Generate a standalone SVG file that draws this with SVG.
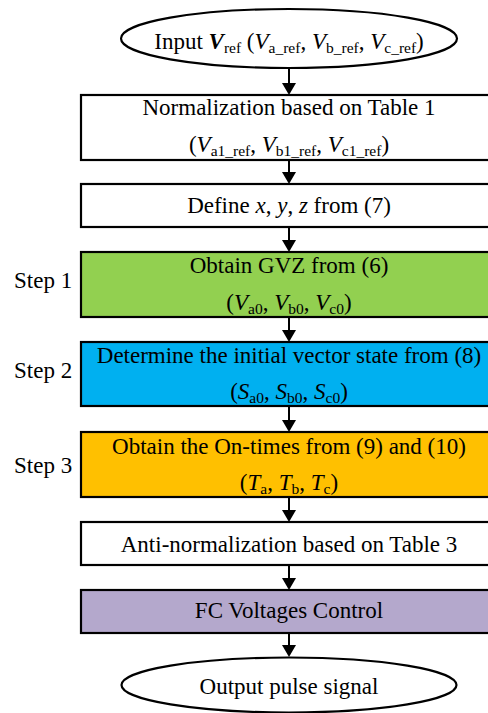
<svg xmlns="http://www.w3.org/2000/svg" width="488" height="713" viewBox="0 0 488 713">
  <style>
    text { font-family: "Liberation Serif", "Times New Roman", serif; font-size: 23px; fill: #000; }
    .c { text-anchor: middle; }
    .box { stroke: #000; stroke-width: 2.2; }
    .term { fill: #fff; stroke: #000; stroke-width: 2.2; }
    .i { font-style: italic; }
    .bi { font-style: italic; font-weight: bold; }
    .s { font-size: 15.5px; }
    .link { stroke: #000; stroke-width: 2; fill: none; }
  </style>
  <defs>
    <marker id="arrow" markerUnits="userSpaceOnUse" viewBox="0 0 12 14" markerWidth="12" markerHeight="14" refX="2" refY="7" orient="auto">
      <path d="M0,0 L12,7 L0,14 z" fill="#000"/>
    </marker>
  </defs>

  <!-- connectors -->
  <g id="connectors">
    <line class="link" x1="289" y1="68" x2="289" y2="85" marker-end="url(#arrow)"/>
    <line class="link" x1="289" y1="160" x2="289" y2="174" marker-end="url(#arrow)"/>
    <line class="link" x1="289" y1="227" x2="289" y2="242" marker-end="url(#arrow)"/>
    <line class="link" x1="289" y1="317" x2="289" y2="332" marker-end="url(#arrow)"/>
    <line class="link" x1="289" y1="406" x2="289" y2="422" marker-end="url(#arrow)"/>
    <line class="link" x1="289" y1="497" x2="289" y2="512" marker-end="url(#arrow)"/>
    <line class="link" x1="289" y1="565" x2="289" y2="580" marker-end="url(#arrow)"/>
    <line class="link" x1="289" y1="633" x2="289" y2="647" marker-end="url(#arrow)"/>
  </g>

  <g id="input">
    <ellipse class="term" cx="289" cy="38.5" rx="168" ry="29.5"/>
    <text class="c" x="289" y="49">Input <tspan class="bi">V</tspan><tspan class="s" dy="4">ref</tspan><tspan dy="-4"> (</tspan><tspan class="i">V</tspan><tspan class="s" dy="4">a_ref</tspan><tspan dy="-4">, </tspan><tspan class="i">V</tspan><tspan class="s" dy="4">b_ref</tspan><tspan dy="-4">, </tspan><tspan class="i">V</tspan><tspan class="s" dy="4">c_ref</tspan><tspan dy="-4">)</tspan></text>
  </g>

  <g id="normalization">
    <rect class="box" x="81" y="95" width="420" height="65" fill="#fff"/>
    <text class="c" x="289" y="115">Normalization based on Table 1</text>
    <text class="c" x="289" y="152">(<tspan class="i">V</tspan><tspan class="s" dy="4">a1_ref</tspan><tspan dy="-4">, </tspan><tspan class="i">V</tspan><tspan class="s" dy="4">b1_ref</tspan><tspan dy="-4">, </tspan><tspan class="i">V</tspan><tspan class="s" dy="4">c1_ref</tspan><tspan dy="-4">)</tspan></text>
  </g>

  <g id="define">
    <rect class="box" x="81" y="184" width="420" height="43" fill="#fff"/>
    <text class="c" x="289" y="213">Define <tspan class="i">x</tspan>, <tspan class="i">y</tspan>, <tspan class="i">z</tspan> from (7)</text>
  </g>

  <g id="step1">
    <rect class="box" x="81" y="252" width="420" height="65" fill="#92D050"/>
    <text class="c" x="289" y="273">Obtain GVZ from (6)</text>
    <text class="c" x="289" y="310">(<tspan class="i">V</tspan><tspan class="s" dy="4">a0</tspan><tspan dy="-4">, </tspan><tspan class="i">V</tspan><tspan class="s" dy="4">b0</tspan><tspan dy="-4">, </tspan><tspan class="i">V</tspan><tspan class="s" dy="4">c0</tspan><tspan dy="-4">)</tspan></text>
    <text x="14" y="288">Step 1</text>
  </g>

  <g id="step2">
    <rect class="box" x="81" y="342" width="420" height="64" fill="#00B0F0"/>
    <text class="c" x="289" y="363">Determine the initial vector state from (8)</text>
    <text class="c" x="289" y="399">(<tspan class="i">S</tspan><tspan class="s" dy="4">a0</tspan><tspan dy="-4">, </tspan><tspan class="i">S</tspan><tspan class="s" dy="4">b0</tspan><tspan dy="-4">, </tspan><tspan class="i">S</tspan><tspan class="s" dy="4">c0</tspan><tspan dy="-4">)</tspan></text>
    <text x="14" y="378">Step 2</text>
  </g>

  <g id="step3">
    <rect class="box" x="81" y="432" width="420" height="65" fill="#FFC000"/>
    <text class="c" x="289" y="454">Obtain the On-times from (9) and (10)</text>
    <text class="c" x="289" y="490">(<tspan class="i">T</tspan><tspan class="s" dy="4">a</tspan><tspan dy="-4">, </tspan><tspan class="i">T</tspan><tspan class="s" dy="4">b</tspan><tspan dy="-4">, </tspan><tspan class="i">T</tspan><tspan class="s" dy="4">c</tspan><tspan dy="-4">)</tspan></text>
    <text x="14" y="473">Step 3</text>
  </g>

  <g id="anti-normalization">
    <rect class="box" x="81" y="522" width="420" height="43" fill="#fff"/>
    <text class="c" x="289" y="552">Anti-normalization based on Table 3</text>
  </g>

  <g id="fc-control">
    <rect class="box" x="81" y="590" width="420" height="43" fill="#B4A8CC"/>
    <text class="c" x="289" y="618">FC Voltages Control</text>
  </g>

  <g id="output">
    <ellipse class="term" cx="289" cy="685" rx="167.5" ry="27.5"/>
    <text class="c" x="289" y="694">Output pulse signal</text>
  </g>
</svg>
